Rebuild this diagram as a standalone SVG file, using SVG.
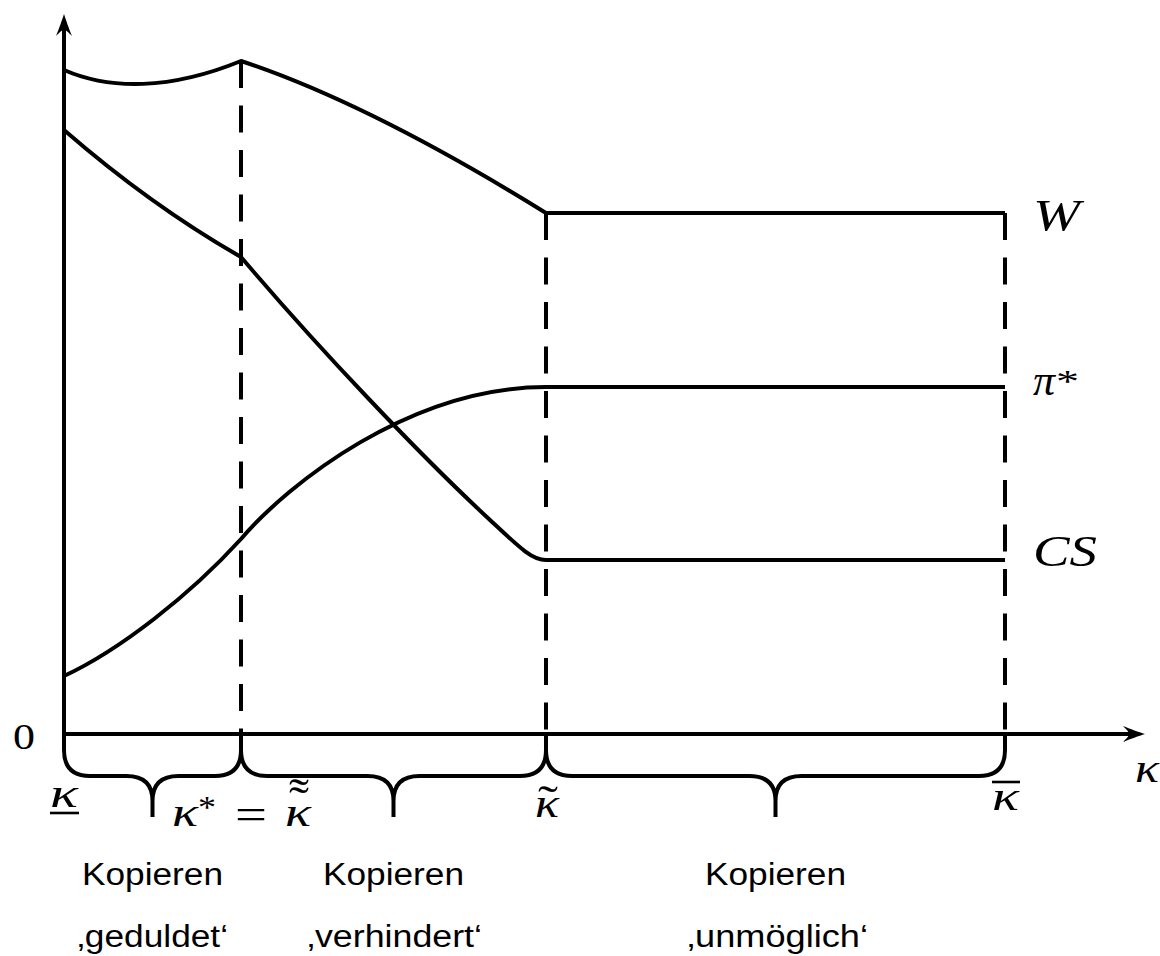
<svg xmlns="http://www.w3.org/2000/svg" width="1160" height="956" viewBox="0 0 1160 956">
<style>
.ln{fill:none;stroke:#000;stroke-width:4;stroke-linejoin:round}
.ax{fill:none;stroke:#000;stroke-width:4}
.dash{fill:none;stroke:#000;stroke-width:4;stroke-dasharray:27 17.5}
.br{fill:none;stroke:#000;stroke-width:4}
.m{font-family:"Liberation Serif","DejaVu Serif",serif;font-style:italic;fill:#000}
.rm{font-family:"Liberation Serif","DejaVu Serif",serif;font-style:normal;fill:#000}
.t{font-family:"Liberation Sans",Arial,sans-serif;font-size:31px;fill:#000;text-anchor:middle}
</style>
<defs>
<marker id="arr" markerUnits="userSpaceOnUse" markerWidth="40" markerHeight="40" refX="0" refY="0" orient="auto" overflow="visible">
<path d="M16,0 C10,-2 1,-5 -6,-8 C-2,-4 0,-2 0,0 C0,2 -2,4 -6,8 C1,5 10,2 16,0 Z" fill="#000"/>
</marker>
</defs>
<g id="axes">
<path class="ax" d="M64,736 V30" marker-end="url(#arr)"/>
<path class="ax" d="M62,734 H1129" marker-end="url(#arr)"/>
</g>
<g id="dashed">
<path class="dash" d="M241,61 V734"/>
<path class="dash" d="M546,213 V734"/>
<path class="dash" d="M1005,213 V734"/>
</g>
<g id="curves">
<path id="curve-W" class="ln" d="M64,70 C110,90 170,90 241,61 C341,94 446,151 546,213 H1005"/>
<path id="curve-CS" class="ln" d="M64,130 C125,183 185,225 241,257 C320,350 420,455 490,520 C520,548 532,560 546,560 H1005"/>
<path id="curve-pi" class="ln" d="M64,676 C120,650 190,595 241,539 C288,484 410,387 546,387 H1005"/>
</g>
<g id="braces">
<path class="br" d="M64,734 V750 Q64,776 90,776 H126.5 Q152.5,776 152.5,801 V817 M152.5,801 Q152.5,776 178.5,776 H215 Q241,776 241,750 V734"/>
<path class="br" d="M241,734 V750 Q241,776 267,776 H367.5 Q393.5,776 393.5,801 V817 M393.5,801 Q393.5,776 419.5,776 H520 Q546,776 546,750 V734"/>
<path class="br" d="M546,734 V750 Q546,776 572,776 H749.5 Q775.5,776 775.5,801 V817 M775.5,801 Q775.5,776 801.5,776 H979 Q1005,776 1005,750 V734"/>
</g>
<g id="labels">
<text class="rm" x="13" y="749" font-size="35" textLength="22" lengthAdjust="spacingAndGlyphs">0</text>
<text class="m" x="1033" y="230" font-size="44" textLength="47" lengthAdjust="spacingAndGlyphs">W</text>
<text class="m" x="1033" y="395" font-size="44"><tspan textLength="22" lengthAdjust="spacingAndGlyphs">π</tspan><tspan class="rm" x="1056" y="392" font-size="31" textLength="23" lengthAdjust="spacingAndGlyphs">*</tspan></text>
<text class="m" x="1033" y="566" font-size="44" textLength="64" lengthAdjust="spacingAndGlyphs">CS</text>
<text class="m" x="1135" y="782" font-size="42" textLength="24" lengthAdjust="spacingAndGlyphs">κ</text>
<text class="m" x="50" y="807" font-size="42" textLength="28" lengthAdjust="spacingAndGlyphs">κ</text>
<line x1="50" y1="813" x2="79" y2="813" stroke="#000" stroke-width="2.6"/>
<text class="m" x="172" y="826" font-size="42"><tspan textLength="26" lengthAdjust="spacingAndGlyphs">κ</tspan><tspan class="rm" x="198" y="818" font-size="31" textLength="18" lengthAdjust="spacingAndGlyphs">*</tspan><tspan class="rm" x="235" y="829" font-size="44" textLength="32" lengthAdjust="spacingAndGlyphs">=</tspan><tspan x="285" y="826" textLength="26" lengthAdjust="spacingAndGlyphs">κ</tspan><tspan class="rm" x="289" y="809" font-size="44" textLength="20" lengthAdjust="spacingAndGlyphs">˜</tspan><tspan class="rm" x="289" y="817" font-size="44" textLength="20" lengthAdjust="spacingAndGlyphs">˜</tspan></text>
<text class="m" x="535" y="817" font-size="42"><tspan textLength="24" lengthAdjust="spacingAndGlyphs">κ</tspan><tspan class="rm" x="538" y="816" font-size="44" textLength="20" lengthAdjust="spacingAndGlyphs">˜</tspan></text>
<text class="m" x="992" y="810" font-size="42" textLength="27" lengthAdjust="spacingAndGlyphs">κ</text>
<line x1="992" y1="782" x2="1020" y2="782" stroke="#000" stroke-width="2.6"/>
<text class="t" x="152.5" y="885" textLength="141" lengthAdjust="spacingAndGlyphs">Kopieren</text>
<text class="t" x="152.5" y="947" textLength="151" lengthAdjust="spacingAndGlyphs">‚geduldet‘</text>
<text class="t" x="393.5" y="885" textLength="141" lengthAdjust="spacingAndGlyphs">Kopieren</text>
<text class="t" x="394.5" y="947" textLength="175" lengthAdjust="spacingAndGlyphs">‚verhindert‘</text>
<text class="t" x="775.5" y="885" textLength="141" lengthAdjust="spacingAndGlyphs">Kopieren</text>
<text class="t" x="777.5" y="947" textLength="181" lengthAdjust="spacingAndGlyphs">‚unmöglich‘</text>
</g>
</svg>
